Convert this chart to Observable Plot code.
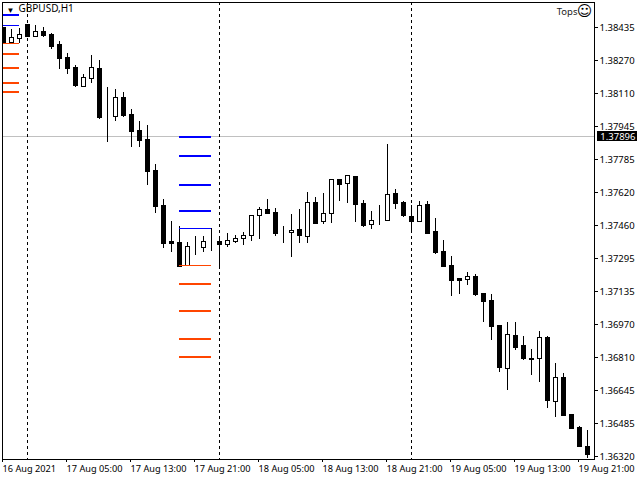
<!DOCTYPE html>
<html>
<head>
<meta charset="utf-8">
<style>html,body{margin:0;padding:0;background:#fff}svg{display:block}</style>
<script src="https://cdn.jsdelivr.net/npm/d3@7"></script>
<script src="https://cdn.jsdelivr.net/npm/@observablehq/plot@0.6"></script>
</head>
<body>
<script>
const symbol = "GBPUSD,H1";
const indicatorName = "Tops";
const currentPrice = 1.37896;
const opens = [1.38433,1.38361,1.38379,1.38448,1.38389,1.38413,1.38398,1.38349,1.38285,1.38236,
1.38142,1.38182,1.38231,1.37994,1.37994,1.38088,1.38004,1.37925,1.37881,1.37728,
1.37555,1.37378,1.37373,1.37260,1.37353,1.37348,1.37378,1.37378,1.37363,1.37378,
1.37393,1.37407,1.37506,1.37536,1.37521,1.37422,1.37422,1.37437,1.37403,1.37570,
1.37477,1.37516,1.37684,1.37664,1.37698,1.37565,1.37462,1.37481,1.37481,1.37615,
1.37570,1.37501,1.37477,1.37560,1.37427,1.37329,1.37260,1.37196,1.37191,1.37205,
1.37122,1.37087,1.36964,1.36752,1.36914,1.36865,1.36801,1.36801,1.36905,1.36589,
1.36707,1.36525,1.36461,1.36367];
const highs = [1.38433,1.38423,1.38428,1.38448,1.38443,1.38433,1.38403,1.38364,1.38305,1.38246,
1.38201,1.38295,1.38270,1.38137,1.38127,1.38113,1.38029,1.37970,1.37950,1.37758,
1.37585,1.37477,1.37452,1.37373,1.37403,1.37403,1.37442,1.37403,1.37417,1.37412,
1.37422,1.37506,1.37546,1.37585,1.37541,1.37452,1.37511,1.37536,1.37624,1.37595,
1.37615,1.37688,1.37684,1.37703,1.37698,1.37580,1.37526,1.37555,1.37856,1.37634,
1.37575,1.37555,1.37575,1.37575,1.37491,1.37383,1.37304,1.37200,1.37225,1.37215,
1.37122,1.37117,1.36964,1.36979,1.36983,1.36914,1.36846,1.36934,1.36910,1.36777,
1.36727,1.36525,1.36466,1.36446];
const lows = [1.38359,1.38359,1.38354,1.38389,1.38389,1.38384,1.38329,1.38226,1.38201,1.38137,
1.38142,1.38157,1.37979,1.37866,1.37970,1.37989,1.37841,1.37841,1.37654,1.37516,
1.37343,1.37324,1.37255,1.37260,1.37309,1.37324,1.37329,1.37245,1.37348,1.37368,
1.37358,1.37378,1.37388,1.37516,1.37407,1.37368,1.37299,1.37368,1.37368,1.37467,
1.37462,1.37467,1.37575,1.37565,1.37472,1.37447,1.37437,1.37457,1.37481,1.37536,
1.37496,1.37422,1.37477,1.37417,1.37314,1.37250,1.37107,1.37117,1.37161,1.37107,
1.36983,1.36890,1.36732,1.36643,1.36841,1.36791,1.36717,1.36683,1.36559,1.36510,
1.36520,1.36456,1.36362,1.36308];
const closes = [1.38359,1.38381,1.38398,1.38389,1.38413,1.38394,1.38339,1.38280,1.38231,1.38147,
1.38186,1.38236,1.37989,1.37994,1.38088,1.37999,1.37920,1.37876,1.37723,1.37550,
1.37368,1.37368,1.37255,1.37353,1.37353,1.37378,1.37378,1.37363,1.37383,1.37393,
1.37407,1.37506,1.37536,1.37516,1.37417,1.37422,1.37432,1.37407,1.37570,1.37467,
1.37516,1.37684,1.37659,1.37703,1.37560,1.37457,1.37481,1.37481,1.37610,1.37565,
1.37506,1.37477,1.37555,1.37417,1.37324,1.37255,1.37186,1.37186,1.37205,1.37117,
1.37082,1.36959,1.36757,1.36919,1.36855,1.36801,1.36796,1.36905,1.36594,1.36707,
1.36520,1.36456,1.36367,1.36328];

const yTickValues = [1.38435,1.382723,1.381096,1.379469,1.377842,1.376215,1.374588,1.372962,1.371335,1.369708,1.368081,1.366454,1.364827,1.36320];
const yTickLabels = ["1.38435","1.38270","1.38110","1.37945","1.37785","1.37620","1.37460","1.37295","1.37135","1.36970","1.36810","1.36645","1.36485","1.36320"];
const xTickValues = [0,8,16,24,32,40,48,56,64,72];
const xTickLabels = ["16 Aug 2021","17 Aug 05:00","17 Aug 13:00","17 Aug 21:00","18 Aug 05:00","18 Aug 13:00","18 Aug 21:00","19 Aug 05:00","19 Aug 13:00","19 Aug 21:00"];
const sessionBars = [3,27,51];

const leftBlueThick = [1.38497];
const leftBlueThin = [1.38446];
const leftOrangeThin = [1.38354];
const leftOrangeThick = [1.38306,1.38237,1.38163,1.38119];
const midBlueThick = [1.37893,1.37803,1.37659,1.37532];
const midBlueThin = [1.37442];
const midOrangeThin = [1.37260];
const midOrangeThick = [1.37171,1.37038,1.36900,1.36811];

const candles = opens.map((o,i)=>({i,o,h:highs[i],l:lows[i],c:closes[i]}));
const bulls = candles.filter(d=>d.c>d.o);
const bears = candles.filter(d=>d.c<=d.o);
const crisp = {shapeRendering:"crispEdges"};
const BLUE="#0000ff", ORANGE="#ff4500";
const segs=(vals,range,stroke,w)=>Plot.ruleY(vals,{x1:range[0],x2:range[1],y:d=>d,stroke,strokeWidth:w,...crisp});
const FONT='"Noto Sans"';

const chart = Plot.plot({
  width:640,height:480,
  marginLeft:2,marginRight:46,marginTop:2,marginBottom:21,
  style:{fontFamily:FONT,fontSize:"9.5px",color:"#000",background:"#fff"},
  x:{domain:[0,73],range:[3,587]},
  y:{domain:[1.38435,1.3632],range:[27,456]},
  marks:[
    Plot.ruleY([currentPrice],{stroke:"#c0c0c0",...crisp}),
    Plot.ruleX(sessionBars,{stroke:"#000",strokeDasharray:"3,3",...crisp}),
    Plot.ruleX(candles,{x:"i",y1:"l",y2:"h",stroke:"#000",...crisp,clip:"frame"}),
    Plot.rect(bears,{x1:d=>d.i-0.25,x2:d=>d.i+0.25,y1:"o",y2:"c",fill:"#000",stroke:"#000",...crisp,clip:"frame"}),
    Plot.rect(bulls,{x1:d=>d.i-0.25,x2:d=>d.i+0.25,y1:"o",y2:"c",fill:"#fff",stroke:"#000",...crisp}),
    segs(leftBlueThick,[0,2],BLUE,2),
    segs(leftBlueThin,[0,2],BLUE,1),
    segs(leftOrangeThin,[0,2],ORANGE,1),
    segs(leftOrangeThick,[0,2],ORANGE,2),
    segs(midBlueThick,[22,26],BLUE,2),
    segs(midBlueThin,[22,26],BLUE,1),
    segs(midOrangeThin,[22,26],ORANGE,1),
    segs(midOrangeThick,[22,26],ORANGE,2),
    Plot.frame({stroke:"#000",...crisp}),
    Plot.axisY({anchor:"right",ticks:yTickValues,tickFormat:d=>yTickLabels[yTickValues.indexOf(d)],tickSize:3,tickPadding:2,label:null,...crisp}),
    Plot.axisX({anchor:"bottom",ticks:xTickValues,tickFormat:d=>xTickLabels[xTickValues.indexOf(d)],tickSize:3,tickPadding:3,fontSize:9.2,textAnchor:"start",dx:-1,label:null,...crisp}),
    Plot.rect([currentPrice],{x1:74.25,x2:79.25,y1:1.37923,y2:1.37873,fill:"#000",...crisp}),
    Plot.text([currentPrice],{x:74.6,y:d=>d,text:d=>d.toFixed(5),fill:"#fff",textAnchor:"start"}),
    Plot.text(["▼"],{frameAnchor:"top-left",dx:4,dy:5,fontSize:8,fill:"#000",textAnchor:"start"}),
    Plot.text([symbol],{frameAnchor:"top-left",dx:16,dy:2,fontSize:10,fill:"#000",textAnchor:"start",lineAnchor:"top"}),
    Plot.text([indicatorName],{frameAnchor:"top-right",dx:-17,dy:6,fontSize:9.5,fill:"#1a1a1a",textAnchor:"end",lineAnchor:"top"}),
    Plot.text(["☺"],{frameAnchor:"top-right",dx:-10,dy:3,fontSize:15,fontFamily:"DejaVu Sans",fill:"#000",textAnchor:"middle",lineAnchor:"top"})
  ]
});
document.body.appendChild(chart);
</script>
</body>
</html>
